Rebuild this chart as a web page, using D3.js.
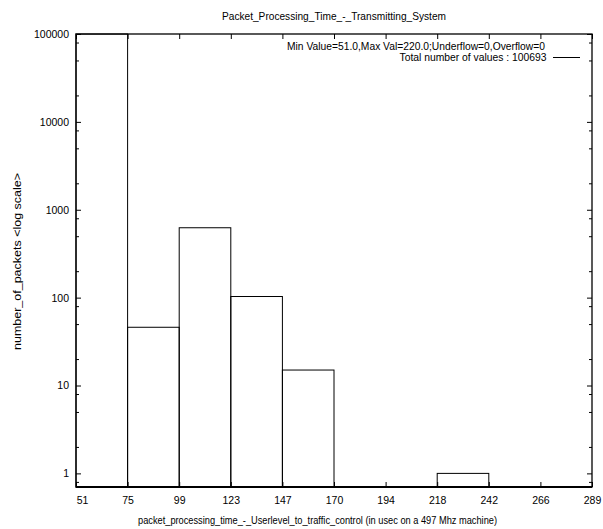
<!DOCTYPE html>
<html>
<head>
<meta charset="utf-8">
<script src="https://cdn.jsdelivr.net/npm/d3@7"></script>
<style>
  body { margin: 0; background: #fff; }
  svg { display: block; }
  text { font-family: "Liberation Sans", Arial, Helvetica, sans-serif; fill: #000; }
</style>
</head>
<body>
<svg id="chart" width="603" height="529"></svg>
<script>
// ---- data ----
const binStarts = [51, 74.8, 98.6, 122.4, 146.2, 170, 193.8, 217.6, 241.4, 265.2];
const binWidth = 23.8;
const counts = [99904, 46, 624, 103, 15, 0, 0, 1, 0, 0];
const xTickValues = [51, 74.8, 98.6, 122.4, 146.2, 170, 193.8, 217.6, 241.4, 265.2, 289];
const xTickLabels = ["51", "75", "99", "123", "147", "170", "194", "218", "242", "266", "289"];
const yMajorTicks = [1, 10, 100, 1000, 10000, 100000];
const yMinorMultipliers = [2, 5, 8];
const titleText = "Packet_Processing_Time_-_Transmitting_System";
const xLabelText = "packet_processing_time_-_Userlevel_to_traffic_control (in usec on a 497 Mhz machine)";
const yLabelText = "number_of_packets <log scale>";
const legendLines = ["Min Value=51.0,Max Val=220.0;Underflow=0,Overflow=0", "Total number of values : 100693"];

// ---- layout ----
const L = 76, R = 592, T = 34, B = 487;
const svg = d3.select("#chart");

const x = d3.scaleLinear().domain([51, 289]).range([L, R]);
const y = d3.scaleLog().domain([0.7, 100000]).range([B, T]);

// bars
svg.append("g").selectAll("rect")
  .data(binStarts.map((s, i) => ({ s, c: counts[i] })).filter(d => d.c > 0))
  .join("rect")
  .attr("x", d => x(d.s))
  .attr("y", d => y(d.c))
  .attr("width", d => x(d.s + binWidth) - x(d.s))
  .attr("height", d => B - y(d.c))
  .attr("fill", "none")
  .attr("stroke", "#000")
  .attr("stroke-width", 1);

// minor y ticks
const yMinor = [];
yMajorTicks.forEach(m => yMinorMultipliers.forEach(k => {
  const v = m * k / 10;
  if (v >= 0.7 && v <= 100000) yMinor.push(v);
}));

// axes
const fs = 11;
const tfs = 10.5;
const axLeft = d3.axisLeft(y).tickValues(yMajorTicks).tickFormat(d3.format("d")).tickSizeInner(-5).tickSizeOuter(0).tickPadding(7);
const gL = svg.append("g").attr("transform", `translate(${L},0)`).call(axLeft);
gL.select(".domain").remove();
gL.selectAll("text").attr("font-size", tfs).attr("font-family", "Liberation Sans, Arial, sans-serif");

const axLeftMinor = d3.axisLeft(y).tickValues(yMinor).tickFormat("").tickSizeInner(-3).tickSizeOuter(0);
const gLm = svg.append("g").attr("transform", `translate(${L},0)`).call(axLeftMinor);
gLm.select(".domain").remove();

const axRight = d3.axisRight(y).tickValues(yMajorTicks).tickFormat("").tickSizeInner(-5).tickSizeOuter(0);
const gR = svg.append("g").attr("transform", `translate(${R},0)`).call(axRight);
gR.select(".domain").remove();
const axRightMinor = d3.axisRight(y).tickValues(yMinor).tickFormat("").tickSizeInner(-3).tickSizeOuter(0);
const gRm = svg.append("g").attr("transform", `translate(${R},0)`).call(axRightMinor);
gRm.select(".domain").remove();

const axBottom = d3.axisBottom(x).tickValues(xTickValues).tickFormat((d, i) => xTickLabels[i]).tickSizeInner(-5).tickSizeOuter(0).tickPadding(10);
const gB = svg.append("g").attr("transform", `translate(0,${B})`).call(axBottom);
gB.select(".domain").remove();
gB.selectAll("text").attr("font-size", tfs).attr("font-family", "Liberation Sans, Arial, sans-serif");
gB.selectAll("text").filter((d, i) => i === 0).attr("dx", 6);

const axTop = d3.axisTop(x).tickValues(xTickValues).tickFormat("").tickSizeInner(-5).tickSizeOuter(0);
const gT = svg.append("g").attr("transform", `translate(0,${T})`).call(axTop);
gT.select(".domain").remove();

svg.selectAll(".tick line").attr("stroke", "#000");

// frame
svg.append("rect").attr("x", L).attr("y", T).attr("width", R - L).attr("height", B - T)
  .attr("fill", "none").attr("stroke", "#000").attr("stroke-width", 1.3);
svg.append("line").attr("x1", L).attr("x2", R).attr("y1", B).attr("y2", B)
  .attr("stroke", "#000").attr("stroke-width", 2);

// title
svg.append("text").attr("x", 334).attr("y", 20).attr("text-anchor", "middle")
  .attr("font-size", fs).attr("textLength", 224).attr("lengthAdjust", "spacingAndGlyphs").text(titleText);

// x label
svg.append("text").attr("x", 317.5).attr("y", 524).attr("text-anchor", "middle")
  .attr("font-size", fs).attr("textLength", 359).attr("lengthAdjust", "spacingAndGlyphs").text(xLabelText);

// y label
svg.append("text").attr("transform", "translate(21,261.5) rotate(-90)").attr("text-anchor", "middle")
  .attr("font-size", fs).attr("textLength", 177).attr("lengthAdjust", "spacingAndGlyphs").text(yLabelText);

// legend
svg.append("text").attr("x", 545).attr("y", 50).attr("text-anchor", "end")
  .attr("font-size", fs).attr("textLength", 258).attr("lengthAdjust", "spacingAndGlyphs").text(legendLines[0]);
svg.append("text").attr("x", 546.5).attr("y", 61).attr("text-anchor", "end")
  .attr("font-size", fs).attr("textLength", 147).attr("lengthAdjust", "spacingAndGlyphs").text(legendLines[1]);
svg.append("line").attr("x1", 553).attr("x2", 580).attr("y1", 57.5).attr("y2", 57.5)
  .attr("stroke", "#000").attr("stroke-width", 1);
</script>
</body>
</html>
